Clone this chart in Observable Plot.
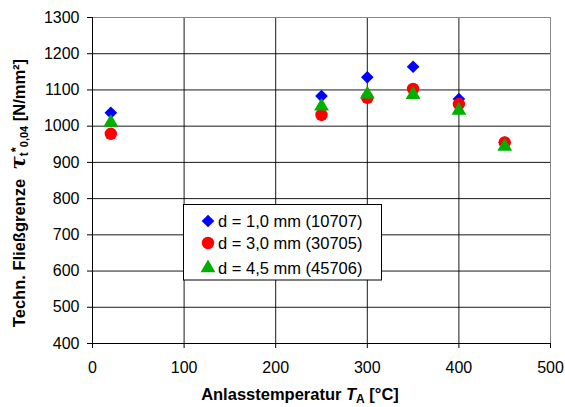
<!DOCTYPE html>
<html>
<head>
<meta charset="utf-8">
<script src="https://cdn.jsdelivr.net/npm/d3@7"></script>
<script src="https://cdn.jsdelivr.net/npm/@observablehq/plot@0.6"></script>
<style>
  html, body { margin: 0; padding: 0; background: #fff; }
  #chart { position: relative; width: 565px; height: 407px; }
</style>
</head>
<body>
<div id="chart"></div>
<script>
// ---- data ----
const temps = [20, 250, 300, 350, 400, 450];
const d10 = [1037, 1083, 1135, 1164, 1075, 955];
const d30 = [979, 1031, 1078, 1103, 1061, 955];
const d45 = [1010, 1055, 1088, 1087, 1043, 944];
const seriesNames = ["d = 1,0 mm (10707)", "d = 3,0 mm (30705)", "d = 4,5 mm (45706)"];
const seriesColors = ["#0000ff", "#ff0000", "#00b000"];
const xTicks = [0, 100, 200, 300, 400, 500];
const yTicks = [400, 500, 600, 700, 800, 900, 1000, 1100, 1200, 1300];

const symbols = [d3.symbolDiamond2, d3.symbolCircle, d3.symbolTriangle];
const radii = [5.7, 6.2, 5.5];
const seriesVals = [d10, d30, d45];

const dotMarks = seriesVals.map((vals, s) =>
  Plot.dot(temps, {
    x: d => d,
    y: (d, i) => vals[i],
    symbol: symbols[s],
    fill: seriesColors[s],
    stroke: "none",
    r: radii[s]
  })
);

const plot = Plot.plot({
  width: 565,
  height: 407,
  marginLeft: 92,
  marginRight: 15,
  marginTop: 17,
  marginBottom: 64,
  style: { fontFamily: "'Liberation Sans', Arial, sans-serif", fontSize: "16px", background: "#fff", color: "#000" },
  x: { domain: [0, 500] },
  y: { domain: [400, 1300] },
  marks: [
    Plot.gridX(xTicks.slice(1, -1), { stroke: "#000", strokeOpacity: 0.9, strokeWidth: 1 }),
    Plot.gridY(yTicks.slice(1, -1), { stroke: "#000", strokeOpacity: 0.9, strokeWidth: 1 }),
    Plot.frame({ stroke: "#888" }),
    Plot.ruleX([0], { stroke: "#000" }),
    Plot.ruleY([400], { stroke: "#000" }),
    Plot.axisY(yTicks, { tickSize: 5, tickPadding: 8, fontSize: 16, label: null, tickFormat: d => String(d) }),
    Plot.axisX(xTicks, { tickSize: 5, tickPadding: 13, fontSize: 16, label: null, tickFormat: d => String(d) }),
    ...dotMarks
  ]
});

document.getElementById("chart").appendChild(plot);

const svg = d3.select(plot);
const font = "'Liberation Sans', Arial, sans-serif";

// Y axis title
const yt = svg.append("text")
  .attr("transform", "translate(25,193) rotate(-90)")
  .attr("text-anchor", "middle")
  .attr("font-family", font)
  .attr("font-weight", "bold")
  .attr("font-size", 16.5)
  .attr("fill", "#000");
yt.append("tspan").text("Techn. Fließgrenze  ");
yt.append("tspan").attr("font-style", "italic").attr("font-size", 20).attr("font-family", "'DejaVu Serif', serif").text("τ");
yt.append("tspan").attr("font-size", 12).attr("dy", 3).text("t");
yt.append("tspan").attr("font-size", 13).attr("dy", -8).text("*");
yt.append("tspan").attr("font-size", 11).attr("dy", 8).text("0,04");
yt.append("tspan").attr("dy", -3).text(" [N/mm²]");

// X axis title
const xt = svg.append("text")
  .attr("x", 300)
  .attr("y", 400)
  .attr("text-anchor", "middle")
  .attr("font-family", font)
  .attr("font-weight", "bold")
  .attr("font-size", 16.5)
  .attr("fill", "#000");
xt.append("tspan").text("Anlasstemperatur ");
xt.append("tspan").attr("font-style", "italic").text("T");
xt.append("tspan").attr("font-size", 12).attr("dy", 3).text("A");
xt.append("tspan").attr("dy", -3).text(" [°C]");

// Legend
const lg = svg.append("g");
lg.append("rect")
  .attr("x", 183.5).attr("y", 204.5)
  .attr("width", 198).attr("height", 75.5)
  .attr("fill", "#fff").attr("stroke", "#000").attr("stroke-width", 1);
const baselines = [227, 249, 274];
seriesNames.forEach((name, s) => {
  const sz = radii[s] * radii[s] * Math.PI;
  lg.append("path")
    .attr("transform", `translate(208,${baselines[s] - 6})`)
    .attr("d", d3.symbol(symbols[s], sz)())
    .attr("fill", seriesColors[s]);
  lg.append("text")
    .attr("x", 218).attr("y", baselines[s])
    .attr("text-anchor", "start")
    .attr("font-family", font)
    .attr("font-size", 16.5)
    .attr("fill", "#000")
    .text(name);
});
</script>
</body>
</html>
